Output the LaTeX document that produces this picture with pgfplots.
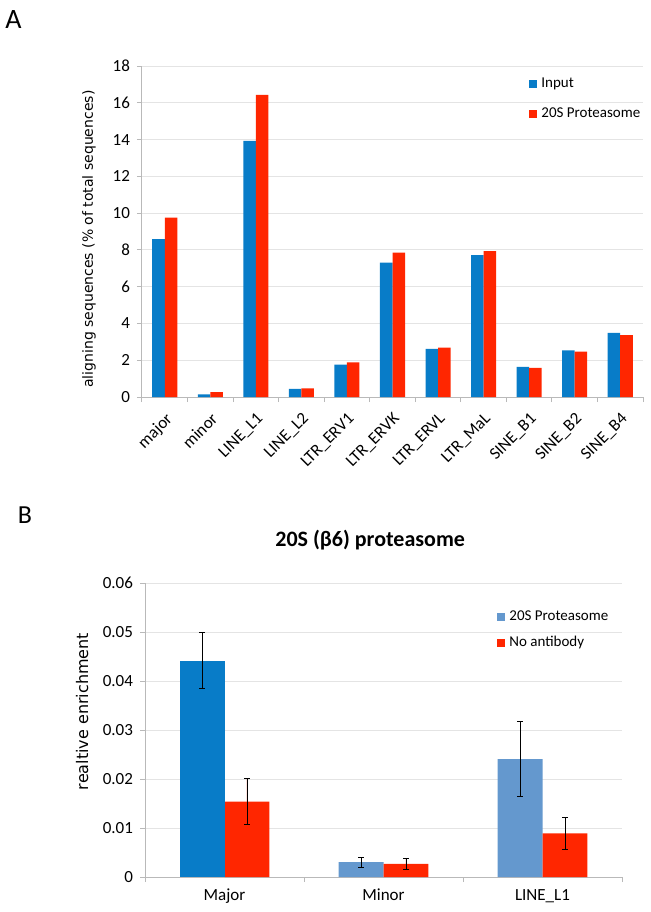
\documentclass[border=0pt]{standalone}
\usepackage{fontspec}
\setmainfont{Carlito}
\newfontfamily\dejavu{DejaVu Sans}
\usepackage{pgfplots}
\pgfplotsset{compat=1.18}

\definecolor{xblue}{RGB}{8,124,200}
\definecolor{xred}{RGB}{255,38,0}
\definecolor{xlight}{RGB}{100,152,206}
\definecolor{gridc}{RGB}{228,228,228}
\definecolor{axc}{RGB}{185,185,185}

\pgfplotsset{
  excel/.style={
    scale only axis,
    ybar,
    axis x line*=bottom, axis y line*=left,
    axis line style={-, draw=axc, line width=0.5pt},
    tick style={draw=axc, line width=0.5pt},
    tick align=outside, major tick length=2.5pt,
    ymajorgrids, grid style={draw=gridc, line width=0.5pt},
    x tick label as interval,
    ymin=0,
    /pgf/number format/assume math mode=true,
    legend cell align=left,
    legend image code/.code={\fill[##1] (0pt,-2pt) rectangle (4pt,2pt);},
  },
}

\begin{document}
\begin{tikzpicture}
\useasboundingbox (0pt,0pt) rectangle (325pt,-456pt);
\node[font=\fontsize{14}{14}\selectfont] at (6.75pt,-9.75pt) {A};
\node[font=\fontsize{13}{13}\selectfont] at (12.5pt,-257.5pt) {B};

% panel A
\begin{axis}[excel,
  at={(71pt,-198.5pt)}, anchor=south west,
  width=250.5pt, height=165.5pt,
  ymax=18, ytick={0,2,...,18},
  xmin=-0.5, xmax=10.5,
  xtick={-0.5,0.5,...,10.5},
  xticklabels={major,minor,LINE\_L1,LINE\_L2,LTR\_ERV1,LTR\_ERVK,LTR\_ERVL,LTR\_MaL,SINE\_B1,SINE\_B2,SINE\_B4},
  x tick label style={rotate=45, anchor=north east, font=\fontsize{8.5}{9}\selectfont},
  y tick label style={font=\fontsize{8.5}{9}\selectfont},
  bar width=0.275,
  ylabel={aligning sequences (\% of total sequences)},
  ylabel style={at={(axis description cs:-0.106,0.477)}, anchor=center,
    font=\dejavu\fontsize{7}{8}\selectfont},
  legend style={at={(axis description cs:0.7725,0.90)}, anchor=west,
    draw=none, fill=none, inner sep=0pt, row sep=4.5pt,
    font=\fontsize{7.5}{9}\selectfont},
]
\addplot[fill=xblue, draw=none, bar shift=-0.1375] coordinates {
  (0,8.58) (1,0.15) (2,13.93) (3,0.44) (4,1.76) (5,7.31)
  (6,2.62) (7,7.71) (8,1.64) (9,2.53) (10,3.49)};
\addlegendentry{Input}
\addplot[fill=xred, draw=none, bar shift=0.1375] coordinates {
  (0,9.75) (1,0.27) (2,16.43) (3,0.47) (4,1.89) (5,7.85)
  (6,2.69) (7,7.93) (8,1.58) (9,2.47) (10,3.36)};
\addlegendentry{20S Proteasome}
\end{axis}

% panel B
\begin{axis}[excel,
  at={(72.5pt,-438.5pt)}, anchor=south west,
  width=238.5pt, height=147pt,
  ymax=0.06, ytick={0,0.01,0.02,0.03,0.04,0.05,0.06},
  scaled y ticks=false,
  yticklabel style={/pgf/number format/fixed, /pgf/number format/precision=2},
  xmin=-0.5, xmax=2.5,
  xtick={-0.5,0.5,1.5,2.5},
  xticklabels={Major,Minor,LINE\_L1},
  x tick label style={font=\fontsize{8.5}{9}\selectfont},
  y tick label style={font=\fontsize{8.5}{9}\selectfont},
  bar width=0.283,
  title={20S (β6) proteasome},
  title style={at={(axis description cs:0.472,1.105)}, anchor=center,
    font=\fontsize{11}{12}\selectfont\bfseries},
  ylabel={realtive enrichment},
  ylabel style={at={(axis description cs:-0.132,0.563)}, anchor=center,
    font=\dejavu\fontsize{8}{9}\selectfont},
  legend style={at={(axis description cs:0.738,0.84)}, anchor=west,
    draw=none, fill=none, inner sep=0pt, row sep=2.5pt,
    font=\fontsize{7.5}{9}\selectfont},
  error bars/error bar style={draw=black, line width=0.4pt},
  error bars/error mark options={draw=black, line width=0.4pt, mark size=1.3pt, rotate=90},
]
\addplot[fill=xlight, draw=none, bar shift=-0.1415,
  error bars/.cd, y dir=both, y explicit] coordinates {
  (1,0.00302) +- (0,0.0010)
  (2,0.02408) +- (0,0.0077)};
\addlegendentry{20S Proteasome}
\addplot[fill=xred, draw=none, bar shift=0.1415,
  error bars/.cd, y dir=both, y explicit] coordinates {
  (0,0.01537) +- (0,0.0047)
  (1,0.00268) +- (0,0.0012)
  (2,0.00892) +- (0,0.0032)};
\addlegendentry{No antibody}
\addplot[fill=xblue, draw=none, bar shift=-0.1415, forget plot,
  error bars/.cd, y dir=both, y explicit] coordinates {
  (0,0.04412) +- (0,0.0057)};
\end{axis}
\end{tikzpicture}
\end{document}
